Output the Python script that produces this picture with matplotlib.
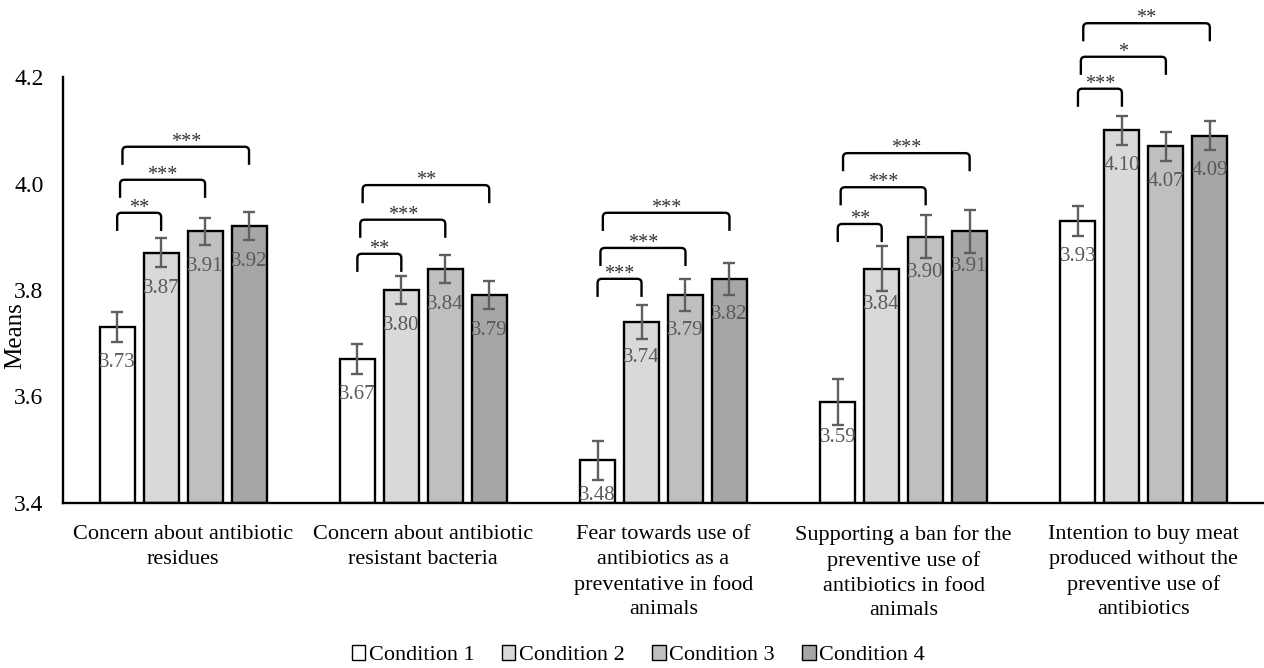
import matplotlib.pyplot as plt
import numpy as np
from matplotlib.path import Path
from matplotlib.patches import PathPatch, Patch

plt.rcParams['font.family'] = ['Liberation Serif', 'DejaVu Serif']

# ----- data ------------------------------------------------------------------
categories = ["Concern about antibiotic\nresidues",
              "Concern about antibiotic\nresistant bacteria",
              "Fear towards use of\nantibiotics as a\npreventative in food\nanimals",
              "Supporting a ban for the\npreventive use of\nantibiotics in food\nanimals",
              "Intention to buy meat\nproduced without the\npreventive use of\nantibiotics"]
conditions = ["Condition 1", "Condition 2", "Condition 3", "Condition 4"]
cond1 = [3.73, 3.67, 3.48, 3.59, 3.93]
cond2 = [3.87, 3.80, 3.74, 3.84, 4.10]
cond3 = [3.91, 3.84, 3.79, 3.90, 4.07]
cond4 = [3.92, 3.79, 3.82, 3.91, 4.09]
err1 = [0.028, 0.028, 0.037, 0.043, 0.028]
err2 = [0.027, 0.026, 0.032, 0.042, 0.027]
err3 = [0.026, 0.026, 0.030, 0.040, 0.027]
err4 = [0.026, 0.026, 0.030, 0.040, 0.027]
# significance vs condition 1: (group, compared condition, label, bracket top)
sig_group = [0, 0, 0, 1, 1, 1, 2, 2, 2, 3, 3, 3, 4, 4, 4]
sig_cond = [1, 2, 3, 1, 2, 3, 1, 2, 3, 1, 2, 3, 1, 2, 3]
sig_label = ["**", "***", "***", "**", "***", "**", "***", "***", "***",
             "**", "***", "***", "***", "*", "**"]
sig_top = [3.945, 4.007, 4.069, 3.868, 3.932, 3.997, 3.821, 3.879, 3.945,
           3.924, 3.993, 4.057, 4.178, 4.238, 4.301]

means = [cond1, cond2, cond3, cond4]
errs = [err1, err2, err3, err4]
colors = ["#ffffff", "#d9d9d9", "#bfbfbf", "#a6a6a6"]

fig = plt.figure(figsize=(12.64, 6.68), dpi=100)
ax = fig.add_axes([63 / 1264, 165 / 668, 1201 / 1264, 426 / 668])

x = np.arange(len(categories))
step = 0.183
width = 0.146
for i in range(4):
    xi = x + (i - 1.5) * step
    ax.bar(xi, np.array(means[i]) - 3.4, width, bottom=3.4, color=colors[i],
           edgecolor="black", linewidth=1.7, zorder=2)
    ax.errorbar(xi, means[i], yerr=errs[i], fmt="none", ecolor="#5f5f5f",
                elinewidth=1.7, capsize=4.5, capthick=1.7, zorder=3)
    for xx, m in zip(xi, means[i]):
        ax.annotate(f"{m:.2f}", (xx, m), xytext=(0, -25.5), textcoords="offset points",
                    ha="center", va="center", fontsize=15, color="#595959", zorder=4)


def bracket(x0, x1, ytop, leg=0.034):
    rx, ry = 0.018, 0.008
    verts = [(x0, ytop - leg), (x0, ytop - ry), (x0, ytop), (x0 + rx, ytop),
             (x1 - rx, ytop), (x1, ytop), (x1, ytop - ry), (x1, ytop - leg)]
    codes = [Path.MOVETO, Path.LINETO, Path.CURVE3, Path.CURVE3,
             Path.LINETO, Path.CURVE3, Path.CURVE3, Path.LINETO]
    ax.add_patch(PathPatch(Path(verts, codes), fill=False, edgecolor="black",
                           linewidth=1.7, clip_on=False, zorder=5))


for g, c, lab, top in zip(sig_group, sig_cond, sig_label, sig_top):
    shift = [0.0, 0.012, 0.022][c - 1]
    x0 = g - 1.5 * step + shift
    x1 = g + (c - 1.5) * step
    bracket(x0, x1, top)
    ax.annotate(lab, ((x0 + x1) / 2, top), xytext=(0, 0), textcoords="offset points",
                ha="center", va="baseline", fontsize=14.5, color="#333333",
                annotation_clip=False)

ax.set_xlim(-0.5, 4.5)
ax.set_ylim(3.4, 4.2)
ax.set_yticks([3.4, 3.6, 3.8, 4.0, 4.2])
ax.set_yticklabels(["3.4", "3.6", "3.8", "4.0", "4.2"])
ax.set_xticks(x)
ax.set_xticklabels(categories, fontsize=16, linespacing=1.4)
ax.tick_params(axis="y", length=0, pad=14, labelsize=17)
ax.tick_params(axis="x", length=0, pad=16)
ax.set_ylabel("Means", fontsize=18)
ax.yaxis.set_label_coords(-0.031, 0.394)
for s in ["top", "right"]:
    ax.spines[s].set_visible(False)
ax.spines["left"].set_linewidth(1.7)
ax.spines["bottom"].set_linewidth(1.7)

handles = [Patch(facecolor=colors[i], edgecolor="black", linewidth=1.0) for i in range(4)]
fig.legend(handles, conditions, loc="lower center", bbox_to_anchor=(0.505, -0.026),
           ncol=4, frameon=False, fontsize=16, handlelength=0.6, handleheight=0.6,
           handletextpad=0.15, columnspacing=1.25)

plt.savefig("out.png", dpi=100)
